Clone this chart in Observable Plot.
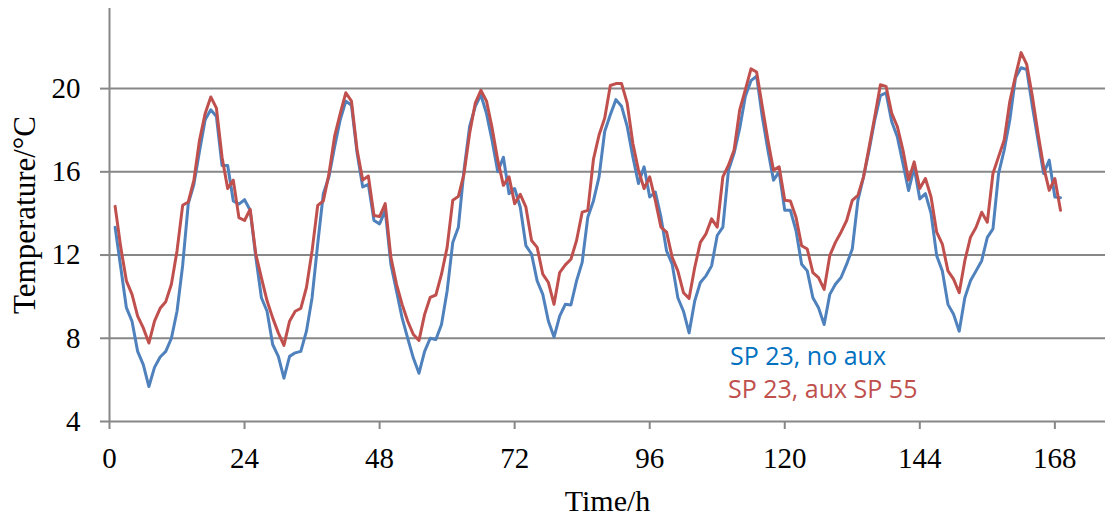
<!DOCTYPE html>
<html>
<head>
<meta charset="utf-8">
<script src="https://cdn.jsdelivr.net/npm/d3@7"></script>
<script src="https://cdn.jsdelivr.net/npm/@observablehq/plot@0.6"></script>
<style>
  html, body { margin: 0; padding: 0; background: #fff; }
  #wrap { position: relative; width: 1109px; height: 518px; overflow: hidden; }
  .leg { position: absolute; font-family: "Open Sans", sans-serif; font-size: 25px; line-height: 25px; white-space: nowrap; }
</style>
</head>
<body>
<div id="wrap"></div>
<script>
// Hourly temperatures (°C), hours 1..169
const noAux = [
  13.34, 11.4, 9.47, 8.82, 7.37, 6.73, 5.68, 6.6, 7.1, 7.37, 8.0, 9.3, 11.5, 14.47, 15.4, 17.0, 18.5, 18.98, 18.66, 16.3,
  16.3, 14.6, 14.45, 14.66, 14.15, 11.9, 9.95, 9.3, 7.7, 7.13, 6.08, 7.13, 7.3, 7.37, 8.34, 9.95, 12.53, 14.95, 15.76, 17.2,
  18.5, 19.4, 19.2, 16.9, 15.27, 15.4, 13.66, 13.5, 14.15, 11.56, 10.27, 8.98, 8.0, 7.05, 6.32, 7.37, 8.0, 7.94, 8.66, 10.27,
  12.6, 13.34, 16.08, 18.18, 19.15, 19.7, 18.8, 17.5, 16.0, 16.7, 14.95, 15.2, 14.3, 12.45, 12.05, 10.76, 10.11, 8.82, 8.06, 9.06,
  9.63, 9.6, 10.76, 11.65, 13.82, 14.6, 15.76, 17.94, 18.74, 19.47, 19.15, 18.18, 16.73, 15.44, 16.24, 14.79, 15.03, 13.82, 12.2, 11.56,
  9.95, 9.3, 8.26, 9.79, 10.68, 11.0, 11.48, 12.94, 13.34, 16.08, 16.9, 18.1, 19.63, 20.38, 20.6, 18.66, 17.05, 15.6, 16.0, 14.15,
  14.15, 13.18, 11.56, 11.24, 9.95, 9.47, 8.66, 10.11, 10.6, 10.92, 11.56, 12.29, 14.63, 15.76, 17.05, 18.5, 19.66, 19.8, 18.42, 17.69,
  16.4, 15.1, 16.2, 14.7, 14.95, 14.0, 11.97, 11.24, 9.63, 9.15, 8.34, 9.95, 10.76, 11.24, 11.73, 12.85, 13.26, 15.92, 17.05, 18.5,
  20.52, 21.0, 20.92, 19.15, 17.53, 15.92, 16.56, 14.79, 14.76
];
const auxSP55 = [
  14.34, 12.37, 10.76, 10.11, 9.06, 8.5, 7.77, 8.82, 9.44, 9.76, 10.6, 12.2, 14.39, 14.55, 15.6, 17.53, 18.8, 19.6, 19.06, 16.7,
  15.2, 15.6, 13.8, 13.66, 14.2, 12.05, 10.9, 9.8, 8.98, 8.26, 7.66, 8.82, 9.3, 9.44, 10.44, 12.2, 14.39, 14.6, 15.9, 17.7,
  18.8, 19.8, 19.4, 17.05, 15.6, 15.8, 13.9, 13.85, 14.47, 11.9, 10.6, 9.63, 8.82, 8.18, 7.9, 9.15, 9.97, 10.08, 11.08, 12.37,
  14.63, 14.82, 15.9, 17.85, 19.3, 19.92, 19.4, 18.1, 16.56, 15.35, 15.76, 14.47, 14.92, 14.3, 12.7, 12.37, 11.08, 10.68, 9.63, 11.16,
  11.53, 11.8, 12.7, 14.06, 14.15, 16.6, 17.77, 18.58, 20.15, 20.24, 20.24, 19.3, 17.37, 16.08, 15.19, 15.76, 14.63, 13.34, 13.1, 11.89,
  11.24, 10.19, 9.92, 11.4, 12.61, 13.02, 13.74, 13.34, 15.76, 16.32, 17.05, 18.98, 19.95, 20.95, 20.8, 19.15, 17.53, 16.08, 16.24, 14.63,
  14.6, 13.82, 12.45, 12.29, 11.16, 10.92, 10.35, 11.97, 12.61, 13.1, 13.66, 14.63, 14.87, 15.76, 17.2, 18.66, 20.19, 20.11, 18.82, 18.18,
  17.05, 15.6, 16.48, 15.2, 15.68, 14.79, 13.1, 12.53, 11.24, 10.84, 10.19, 11.73, 12.85, 13.34, 14.06, 13.58, 15.92, 16.73, 17.53, 19.39,
  20.6, 21.73, 21.16, 19.63, 17.85, 16.24, 15.11, 15.68, 14.15
];
const seriesNames = ["SP 23, no aux", "SP 23, aux SP 55"];
const xTicks = [0, 24, 48, 72, 96, 120, 144, 168];
const yTicks = [4, 8, 12, 16, 20];
const gridLines = [8, 12, 16, 20];

const lineColors = ["#4F81BD", "#C0504D"];
const textColors = ["#0070C0", "#C0504D"];
const axisGray = "#878787";

const rowsA = noAux.map((v, i) => ({hour: i + 1, temp: v}));
const rowsB = auxSP55.map((v, i) => ({hour: i + 1, temp: v}));

const chart = Plot.plot({
  width: 1109,
  height: 518,
  marginLeft: 109,
  marginRight: 4,
  marginTop: 8,
  marginBottom: 97,
  x: {domain: [0, 177]},
  y: {domain: [4, 23.85]},
  style: {fontFamily: "'Liberation Serif', 'Times New Roman', serif", fontSize: "29px", color: "#000", background: "#fff"},
  marks: [
    Plot.ruleY(gridLines, {stroke: axisGray, strokeWidth: 2}),
    Plot.ruleY([4], {stroke: axisGray, strokeWidth: 2}),
    Plot.ruleX([0], {stroke: axisGray, strokeWidth: 2}),
    Plot.axisY({ticks: yTicks, tickSize: 9, tickPadding: 20, stroke: axisGray, strokeWidth: 2, label: null, tickFormat: d => String(d)}),
    Plot.axisX({ticks: xTicks, tickSize: 8, tickPadding: 18, stroke: axisGray, strokeWidth: 2, label: null, tickFormat: d => String(d)}),
    Plot.line(rowsA, {x: "hour", y: "temp", stroke: lineColors[0], strokeWidth: 3}),
    Plot.line(rowsB, {x: "hour", y: "temp", stroke: lineColors[1], strokeWidth: 3}),
    Plot.text(["Time/h"], {frameAnchor: "bottom", dy: 80, fontSize: 30, fill: "#000", lineAnchor: "middle", textAnchor: "middle"}),
    Plot.text(["Temperature/°C"], {frameAnchor: "left", dx: -84, rotate: -90, fontSize: 31, fill: "#000", lineAnchor: "middle", textAnchor: "middle"})
  ]
});

const wrap = document.getElementById("wrap");
wrap.appendChild(chart);

const leg1 = document.createElement("div");
leg1.className = "leg";
leg1.style.left = "730px";
leg1.style.top = "343px";
leg1.style.color = textColors[0];
leg1.textContent = seriesNames[0];
wrap.appendChild(leg1);

const leg2 = document.createElement("div");
leg2.className = "leg";
leg2.style.left = "728px";
leg2.style.top = "376px";
leg2.style.color = textColors[1];
leg2.textContent = seriesNames[1];
wrap.appendChild(leg2);
</script>
</body>
</html>
